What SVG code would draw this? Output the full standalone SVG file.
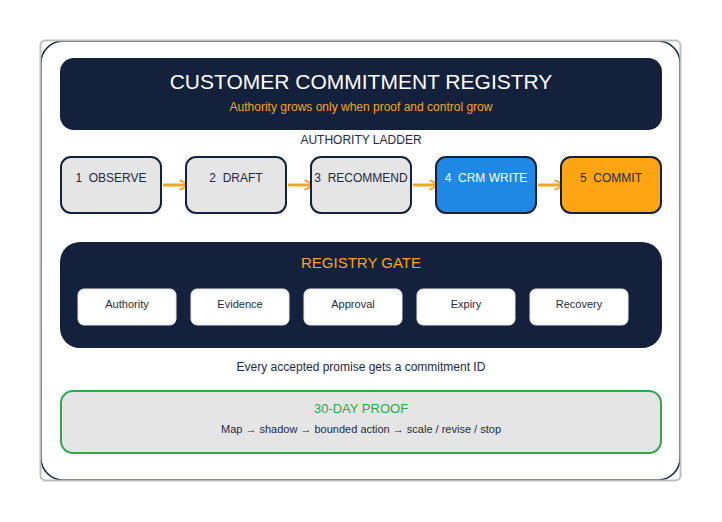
<svg xmlns="http://www.w3.org/2000/svg" width="722" height="522" viewBox="0 0 722 522">
<style>
text{font-family:"Liberation Sans",Arial,sans-serif;text-anchor:middle}
.step{fill:#e5e5e5;stroke:#14213d;stroke-width:2}
.lbl{font-size:12px;fill:#1e2a44;white-space:pre}
.pill{fill:#ffffff;stroke:#e8e8e8;stroke-width:1}
.pt{font-size:11px;fill:#1e2a44}
.arr{stroke:#f9a51a;stroke-width:3;fill:none}
</style>
<defs>
<marker id="ah" viewBox="0 0 10 10" refX="8" refY="5" markerWidth="4" markerHeight="4" orient="auto" markerUnits="strokeWidth">
<path d="M1,1 L9,5 L1,9" fill="none" stroke="#f9a51a" stroke-width="1.6"/>
</marker>
</defs>
<rect x="0" y="0" width="722" height="522" fill="#ffffff"/>
<rect x="41" y="41" width="639" height="439" rx="22" fill="#ffffff" stroke="#14213d" stroke-width="1.5"/>
<rect x="40.5" y="40.5" width="640" height="440" rx="5" fill="none" stroke="#bdbdbd" stroke-width="2"/>
<g id="header">
<rect x="60" y="58" width="602" height="72" rx="14" fill="#14213d"/>
<text x="361" y="89" font-size="21" fill="#ffffff">CUSTOMER COMMITMENT REGISTRY</text>
<text x="361" y="111" font-size="12" fill="#f9a51a">Authority grows only when proof and control grow</text>
</g>
<text id="ladder-label" x="361" y="144" font-size="12" fill="#1e2a44">AUTHORITY LADDER</text>
<g id="connectors">
<line class="arr" x1="163" y1="185" x2="188" y2="185" marker-end="url(#ah)"/>
<line class="arr" x1="288" y1="185" x2="313" y2="185" marker-end="url(#ah)"/>
<line class="arr" x1="413" y1="185" x2="438" y2="185" marker-end="url(#ah)"/>
<line class="arr" x1="538" y1="185" x2="563" y2="185" marker-end="url(#ah)"/>
</g>
<g id="step1"><rect class="step" x="61" y="157" width="100" height="56" rx="10"/><text class="lbl" x="111" y="182">1  OBSERVE</text></g>
<g id="step2"><rect class="step" x="186" y="157" width="100" height="56" rx="10"/><text class="lbl" x="236" y="182">2  DRAFT</text></g>
<g id="step3"><rect class="step" x="311" y="157" width="100" height="56" rx="10"/><text class="lbl" x="361" y="182">3  RECOMMEND</text></g>
<g id="step4"><rect class="step" x="436" y="157" width="100" height="56" rx="10" style="fill:#1f88e5"/><text class="lbl" x="486" y="182" style="fill:#ffffff">4  CRM WRITE</text></g>
<g id="step5"><rect class="step" x="561" y="157" width="100" height="56" rx="10" style="fill:#ffa412"/><text class="lbl" x="611" y="182">5  COMMIT</text></g>
<g id="gate">
<rect x="60" y="242" width="602" height="106" rx="20" fill="#14213d"/>
<text x="361" y="268" font-size="15" fill="#f9a51a">REGISTRY GATE</text>
</g>
<g id="pill-authority"><rect class="pill" x="78" y="289" width="98" height="36" rx="6"/><text class="pt" x="127" y="308">Authority</text></g>
<g id="pill-evidence"><rect class="pill" x="191" y="289" width="98" height="36" rx="6"/><text class="pt" x="240" y="308">Evidence</text></g>
<g id="pill-approval"><rect class="pill" x="304" y="289" width="98" height="36" rx="6"/><text class="pt" x="353" y="308">Approval</text></g>
<g id="pill-expiry"><rect class="pill" x="417" y="289" width="98" height="36" rx="6"/><text class="pt" x="466" y="308">Expiry</text></g>
<g id="pill-recovery"><rect class="pill" x="530" y="289" width="98" height="36" rx="6"/><text class="pt" x="579" y="308">Recovery</text></g>
<text id="note" x="361" y="371" font-size="12" fill="#1e2a44">Every accepted promise gets a commitment ID</text>
<g id="proof">
<rect x="61" y="391" width="600" height="62" rx="12" fill="#e5e5e5" stroke="#2ea84a" stroke-width="2"/>
<text x="361" y="413" font-size="13" fill="#2ea84a">30-DAY PROOF</text>
<text x="361" y="433" font-size="11" fill="#1e2a44">Map → shadow → bounded action → scale / revise / stop</text>
</g>
</svg>
